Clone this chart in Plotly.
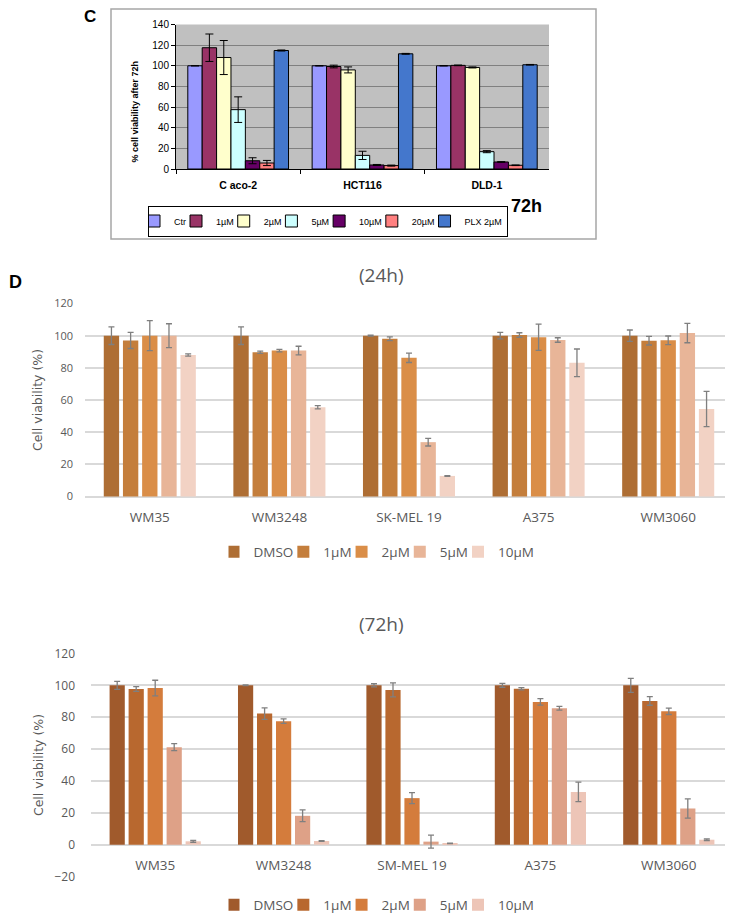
import plotly.graph_objects as go

# the page body has an 8px margin, so the figure is 8px smaller and all
# page positions below are shifted by 8 in px()/py()
W, H = 725, 907

# ---- panel C data ----
c_lines = ["C aco-2", "HCT116", "DLD-1"]
c_names = ["Ctr", "1µM", "2µM", "5µM", "10µM", "20µM", "PLX 2µM"]
c_colors = ["#9999ff", "#993366", "#ffffcc", "#ccffff", "#660066", "#ff8080", "#4477cc"]
c_ctr = [100, 100, 100]
c_ctr_err = [0, 0, 0]
c_1um = [117.5, 99.3, 100.4]
c_1um_err = [13.3, 1.3, 0.3]
c_2um = [108, 96, 98.4]
c_2um_err = [16.5, 2.9, 0.5]
c_5um = [57.5, 13.2, 16.8]
c_5um_err = [12.4, 4, 1]
c_10um = [8, 3.9, 6.8]
c_10um_err = [2.9, 0.5, 0.3]
c_20um = [5.8, 3.3, 3.6]
c_20um_err = [2.5, 0.5, 0.3]
c_plx = [114.8, 111.6, 101]
c_plx_err = [0.5, 0.4, 0.3]

# ---- panel D data ----
d_names = ["DMSO", "1µM", "2µM", "5µM", "10µM"]
d24_lines = ["WM35", "WM3248", "SK-MEL 19", "A375", "WM3060"]
d24_colors = ["#ae6e34", "#c47e3c", "#da8e48", "#e8b598", "#f2d2c4"]
d24_dmso = [100, 100, 100, 100, 100]
d24_dmso_err = [5.5, 5.5, 0.3, 2, 3.5]
d24_1um = [97, 89.7, 98.1, 100.4, 96.9]
d24_1um_err = [5, 0.7, 1.2, 1.4, 2.7]
d24_2um = [100, 90.7, 86.2, 99, 97.1]
d24_2um_err = [9.3, 0.8, 2.9, 8.2, 2.7]
d24_5um = [100, 90.7, 33.8, 97.3, 101.6]
d24_5um_err = [7.4, 2.7, 2.4, 1.4, 6]
d24_10um = [88, 55.5, 12.8, 83.1, 54.4]
d24_10um_err = [0.7, 1, 0.2, 8.6, 10.9]

d72_lines = ["WM35", "WM3248", "SM-MEL 19", "A375", "WM3060"]
d72_colors = ["#a05a2c", "#b8682f", "#d47c3c", "#dea187", "#edc5b7"]
d72_dmso = [100, 100, 100, 100, 100]
d72_dmso_err = [2.5, 0.2, 1, 1.2, 4.4]
d72_1um = [97.7, 82.3, 97.1, 97.9, 90.2]
d72_1um_err = [1.5, 3.6, 4.4, 0.7, 2.7]
d72_2um = [98.3, 77.5, 29.2, 89.6, 83.7]
d72_2um_err = [4.9, 1.4, 3.4, 2, 2]
d72_5um = [61.2, 18.1, 1.9, 85.6, 22.7]
d72_5um_err = [2.2, 3.7, 4.1, 1.2, 6]
d72_10um = [2.1, 2.3, 0.8, 33.1, 3.1]
d72_10um_err = [0.6, 0.2, 0.1, 6.1, 0.5]

fig = go.Figure()

# panel C bars (explicit width so the group fills like Excel, no inner gap)
c_series = [(c_ctr, c_ctr_err), (c_1um, c_1um_err), (c_2um, c_2um_err), (c_5um, c_5um_err),
            (c_10um, c_10um_err), (c_20um, c_20um_err), (c_plx, c_plx_err)]
c_span = 0.81
c_w = c_span / len(c_series)
for i, ((vals, errs), name, col) in enumerate(zip(c_series, c_names, c_colors)):
    fig.add_trace(go.Bar(
        x=c_lines, y=vals, name=name, xaxis="x", yaxis="y", legend="legend",
        width=c_w, offset=-c_span / 2 + i * c_w,
        marker=dict(color=col, line=dict(color="black", width=1)),
        error_y=dict(type="data", array=errs, color="black", thickness=1, width=4),
    ))

d24_series = [(d24_dmso, d24_dmso_err), (d24_1um, d24_1um_err), (d24_2um, d24_2um_err),
              (d24_5um, d24_5um_err), (d24_10um, d24_10um_err)]
for (vals, errs), name, col in zip(d24_series, d_names, d24_colors):
    fig.add_trace(go.Bar(
        x=d24_lines, y=vals, name=name, xaxis="x2", yaxis="y2", legend="legend2",
        marker=dict(color=col, line=dict(width=0)),
        error_y=dict(type="data", array=errs, color="#7f7f7f", thickness=1.3, width=3),
    ))

d72_series = [(d72_dmso, d72_dmso_err), (d72_1um, d72_1um_err), (d72_2um, d72_2um_err),
              (d72_5um, d72_5um_err), (d72_10um, d72_10um_err)]
for (vals, errs), name, col in zip(d72_series, d_names, d72_colors):
    fig.add_trace(go.Bar(
        x=d72_lines, y=vals, name=name, xaxis="x3", yaxis="y3", legend="legend3",
        marker=dict(color=col, line=dict(width=0)),
        error_y=dict(type="data", array=errs, color="#7f7f7f", thickness=1.3, width=3),
    ))

def px(x):
    return (x - 8) / W

def py(y):
    return 1 - (y - 8) / H

gray = "#595959"
d_tick = dict(family="Open Sans", size=11, color=gray)
d_cat = dict(family="Open Sans", size=13.5, color=gray)
d_leg = dict(family="Open Sans", size=13.5, color=gray)

def ann(text, x, y, size, family="Liberation Sans, Arial", color="black", angle=0):
    return dict(text=text, x=px(x), y=py(y), xref="paper", yref="paper", showarrow=False,
                xanchor="center", yanchor="middle", textangle=angle,
                font=dict(family=family, size=size, color=color))

fig.update_layout(
    width=W, height=H,
    margin=dict(l=0, r=0, t=0, b=0, autoexpand=False),
    paper_bgcolor="white", plot_bgcolor="rgba(0,0,0,0)",
    barmode="group", bargap=0.26, bargroupgap=0.2,
    # panel C
    xaxis=dict(domain=[px(176), px(549)], anchor="y", type="category",
               showline=True, linecolor="black", linewidth=1,
               ticks="outside", tickson="boundaries", ticklen=4, tickcolor="black",
               showgrid=False, ticklabelstandoff=6,
               tickfont=dict(family="Liberation Sans, Arial", size=10.5, color="black", weight="bold")),
    yaxis=dict(domain=[py(169), py(24.5)], anchor="x", range=[0, 140], dtick=20,
               showline=True, linecolor="black", linewidth=1,
               ticks="outside", ticklen=4, tickcolor="black",
               gridcolor="#808080", gridwidth=1, zeroline=False,
               tickfont=dict(family="Liberation Sans, Arial", size=10, color="black")),
    # panel D 24h
    xaxis2=dict(domain=[px(85), 1], anchor="y2", type="category", showline=False,
                ticks="", showgrid=False, ticklabelstandoff=10, tickfont=d_cat),
    yaxis2=dict(domain=[py(497), py(303)], anchor="x2", range=[-0.3, 120.3], dtick=20,
                showline=False, ticks="", gridcolor="#d9d9d9", gridwidth=1.5,
                zeroline=True, zerolinecolor="#d9d9d9", zerolinewidth=1.5,
                ticklabelstandoff=11, tickfont=d_tick,
                title=dict(text="Cell viability (%)", standoff=8,
                           font=dict(family="DejaVu Sans", size=12.5, color=gray))),
    # panel D 72h
    xaxis3=dict(domain=[px(91), 1], anchor="free", position=py(845), type="category",
                showline=False, ticks="", showgrid=False, ticklabelstandoff=10, tickfont=d_cat),
    yaxis3=dict(domain=[py(877), py(653)], anchor="x3", range=[-20.3, 120.3], dtick=20,
                showline=False, ticks="", gridcolor="#d9d9d9", gridwidth=1.5,
                zeroline=True, zerolinecolor="#d9d9d9", zerolinewidth=1.5,
                ticklabelstandoff=15, tickfont=dict(family="Open Sans", size=12, color=gray),
                title=dict(text="Cell viability (%)", standoff=8,
                           font=dict(family="DejaVu Sans", size=12.5, color=gray))),
    legend=dict(orientation="h", x=px(328), y=py(221), xanchor="center", yanchor="middle",
                bgcolor="white", bordercolor="black", borderwidth=1,
                itemwidth=30, indentation=-15,
                font=dict(family="Liberation Sans, Arial", size=9, color="black")),
    legend2=dict(orientation="h", x=px(384), y=py(552), xanchor="center", yanchor="middle",
                 bgcolor="rgba(0,0,0,0)", itemwidth=30, indentation=-15, font=d_leg),
    legend3=dict(orientation="h", x=px(384), y=py(905), xanchor="center", yanchor="middle",
                 bgcolor="rgba(0,0,0,0)", itemwidth=30, indentation=-15, font=d_leg),
    shapes=[
        dict(type="rect", xref="paper", yref="paper", x0=px(111), x1=px(596), y0=py(239), y1=py(9),
             line=dict(color="#a6a6a6", width=1.5), fillcolor="white", layer="below"),
        dict(type="rect", xref="x domain", yref="y domain", x0=0, x1=1, y0=0, y1=1,
             line=dict(width=0), fillcolor="#c0c0c0", layer="below"),
    ],
    annotations=[
        ann("<b>C</b>", 90, 17, 17),
        ann("<b>72h</b>", 526, 206, 18),
        ann("<b>% cell viability after 72h</b>", 134.5, 112, 9, angle=-90),
        ann("<b>D</b>", 16, 282, 18),
        ann("(24h)", 381, 275, 19, family="Open Sans", color=gray),
        ann("(72h)", 381, 624, 19, family="Open Sans", color=gray),
    ],
)

fig.write_html("out.html")
